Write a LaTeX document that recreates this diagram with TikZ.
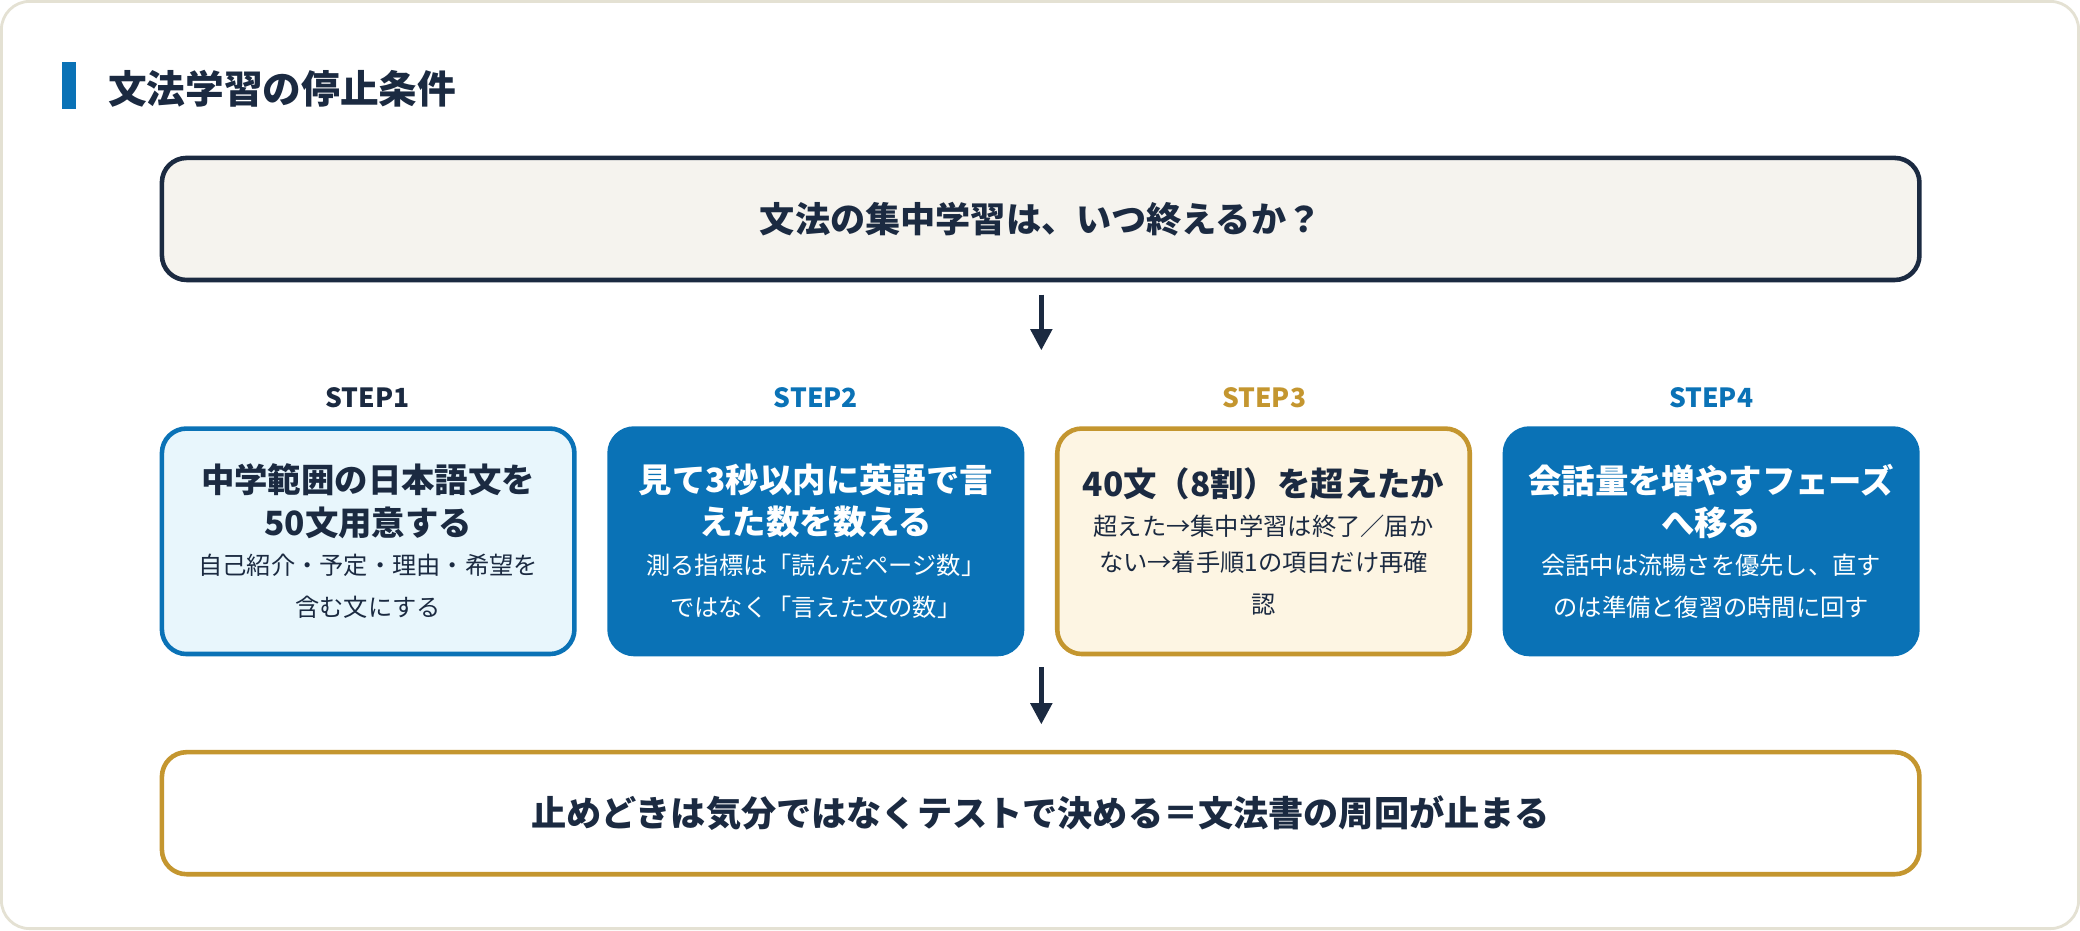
\documentclass[tikz,border=0pt]{standalone}
\usepackage{fontspec}
\setmainfont{Noto Sans CJK JP}
\usetikzlibrary{arrows.meta}
\definecolor{navy}{HTML}{1B2A41}
\definecolor{stepblue}{HTML}{0A72B6}
\definecolor{lightblue}{HTML}{E8F6FC}
\definecolor{gold}{HTML}{C4962F}
\definecolor{cream}{HTML}{FDF5E3}
\definecolor{paper}{HTML}{F5F3EE}
\definecolor{edge}{HTML}{E4E1D3}
\newcommand{\boxhead}{\fontsize{9.5pt}{14.3pt}\selectfont\bfseries}
\newcommand{\boxsub}{\fontsize{6.9pt}{10.2pt}\selectfont}
\begin{document}
\begin{tikzpicture}[x=0.013265cm, y=-0.013265cm,
    stepbox/.style={rounded corners=7pt, line width=1.3pt, minimum width=311*0.013265cm,
      minimum height=170*0.013265cm, align=center, text width=290*0.013265cm, inner sep=0pt},
    wide/.style={rounded corners=7pt, line width=1.3pt, minimum width=1325*0.013265cm,
      minimum height=92*0.013265cm, font=\fontsize{10pt}{12pt}\selectfont\bfseries, text=navy},
    steplabel/.style={font=\fontsize{7.5pt}{9pt}\selectfont\bfseries},
    flow/.style={-{Triangle[length=6pt, width=6pt]}, line width=1.3pt, draw=navy}]
  % card
  \draw[edge, fill=white, line width=0.8pt, rounded corners=8pt] (1,1) rectangle (1567,700);
  \fill[stepblue] (47,47) rectangle (57,82);
  \node[anchor=west, text=navy, font=\fontsize{11pt}{13pt}\selectfont\bfseries] (title) at (72,67) {文法学習の停止条件};
  % question and result
  \node[wide, draw=navy, fill=paper] (ask) at (784.5,165) {文法の集中学習は、いつ終えるか？};
  \node[wide, draw=gold, fill=white] (result) at (784.5,613) {止めどきは気分ではなくテストで決める＝文法書の周回が止まる};
  % steps
  \node[steplabel, text=navy] (l1) at (277,300) {STEP1};
  \node[steplabel, text=stepblue] (l2) at (615,300) {STEP2};
  \node[steplabel, text=gold] (l3) at (953,300) {STEP3};
  \node[steplabel, text=stepblue] (l4) at (1290,300) {STEP4};
  \node[stepbox, draw=stepblue, fill=lightblue, text=navy] (s1) at (277.5,408)
    {{\boxhead 中学範囲の日本語文を\\50文用意する}\\[1pt]{\boxsub 自己紹介・予定・理由・希望を\\含む文にする}};
  \node[stepbox, draw=stepblue, fill=stepblue, text=white] (s2) at (615,408)
    {{\boxhead 見て3秒以内に英語で言\\えた数を数える}\\[1pt]{\boxsub 測る指標は「読んだページ数」\\ではなく「言えた文の数」}};
  \node[stepbox, draw=gold, fill=cream, text=navy] (s3) at (952.5,408)
    {{\boxhead 40文（8割）を超えたか}\\[1pt]{\boxsub 超えた→集中学習は終了／届か\\ない→着手順1の項目だけ再確\\認}};
  \node[stepbox, draw=stepblue, fill=stepblue, text=white] (s4) at (1290,408)
    {{\boxhead 会話量を増やすフェーズ\\へ移る}\\[1pt]{\boxsub 会話中は流暢さを優先し、直す\\のは準備と復習の時間に回す}};
  % arrows
  \coordinate (a1) at (785,222);
  \coordinate (a2) at (785,264);
  \coordinate (b1) at (785,503);
  \coordinate (b2) at (785,546);
  \draw[flow] (a1) -- (a2);
  \draw[flow] (b1) -- (b2);
\end{tikzpicture}
\end{document}
